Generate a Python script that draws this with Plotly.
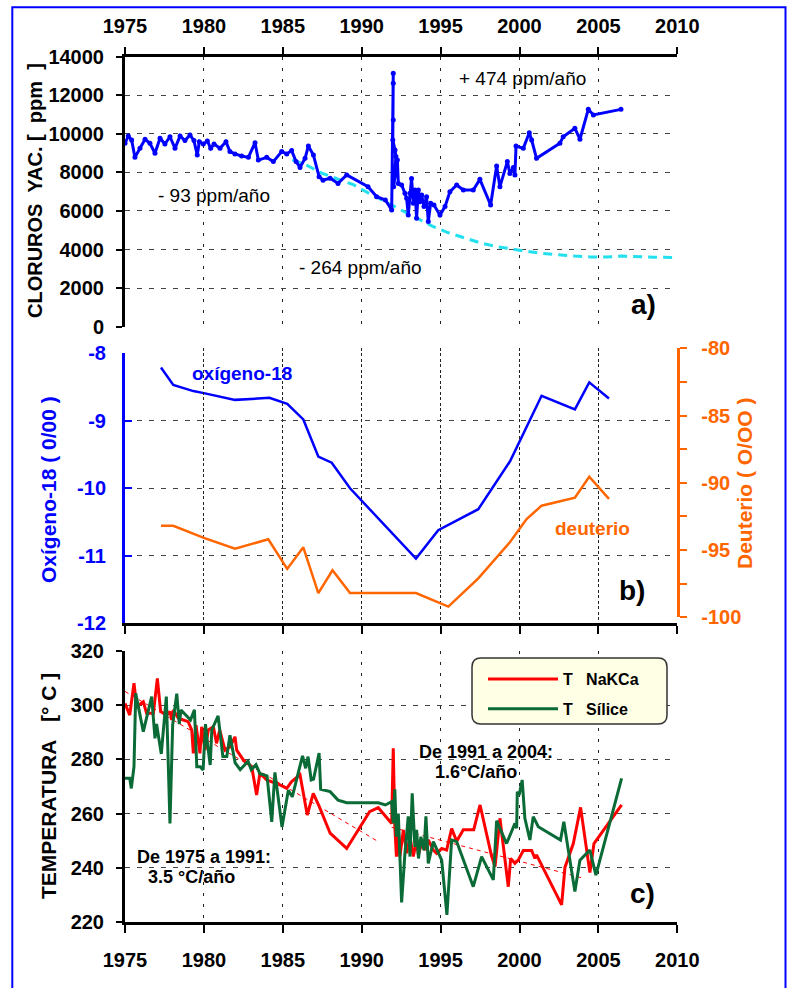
import plotly.graph_objects as go

FONT = "Liberation Sans, Arial, sans-serif"
W, H = 790, 988

# ---------------- Panel a: chlorides ----------------
cl_years = [1975.0, 1975.21, 1975.42, 1975.63, 1975.95, 1976.27, 1976.58, 1976.9, 1977.22, 1977.53,
            1977.85, 1978.17, 1978.49, 1978.8, 1979.12, 1979.37, 1979.58, 1979.71, 1979.96, 1980.22,
            1980.43, 1980.64, 1981.02, 1981.4, 1981.65, 1981.97, 1982.39, 1982.82, 1983.24, 1983.45,
            1983.98, 1984.4, 1984.93, 1985.25, 1985.56, 1985.84, 1986.09, 1986.41, 1986.62, 1986.94,
            1987.3, 1987.55, 1988.0, 1988.5, 1989.05, 1990.4, 1990.95, 1991.5, 1991.9,
            1992.0, 1992.0, 1992.0, 1991.97, 1992.11, 1992.17, 1992.02, 1992.26, 1992.32, 1992.53,
            1992.74, 1992.85, 1992.95, 1993.06, 1993.16, 1993.27, 1993.38, 1993.48, 1993.59, 1993.69,
            1993.8, 1993.95, 1994.11, 1994.22, 1994.37, 1994.58, 1994.96, 1995.28, 1995.59, 1996.02,
            1996.44, 1997.07, 1997.49, 1998.17, 1998.55, 1998.76, 1999.23, 1999.39, 1999.61, 1999.71,
            1999.78, 2000.24, 2000.62, 2000.77, 2001.08, 2002.56, 2002.77, 2003.51, 2003.83, 2004.36,
            2004.68, 2006.43]
cl_values = [9510, 9890, 9680, 8780, 9250, 9715, 9510, 8990, 9770, 9470,
             9850, 9250, 9890, 9650, 9940, 9650, 8900, 9590, 9470, 9630,
             9250, 9470, 9250, 9590, 9080, 8960, 8850, 8780, 9540, 8640,
             8780, 8560, 9080, 8960, 9130, 8560, 8260, 8730, 9370, 8900,
             7780, 7600, 7700, 7430, 7870, 7260, 6740, 6570, 6050,
             13140, 12620, 10720, 9680, 9160, 8820, 7260, 8640, 7430, 7350,
             6920, 6660, 5790, 6920, 7690, 6400, 7090, 5620, 7090, 6480,
             6830, 6230, 6740, 5450, 6400, 6310, 5790, 6230, 7000, 7350,
             7090, 7090, 7640, 6310, 8330, 7260, 8560, 7950, 8260, 7870,
             9370, 9250, 10060, 9680, 8730, 9510, 9850, 10290, 9720, 11270,
             10980, 11270]

cl_trend_years = [1985.6, 1986.5, 1987.5, 1988.5, 1989.5, 1990.5, 1991.5, 1992.5, 1993.5, 1994.5,
                  1995.5, 1996.5, 1997.5, 1998.5, 1999.5, 2000.5, 2001.5, 2002.5, 2003.5, 2004.5,
                  2005.5, 2006.5, 2007.5, 2008.5, 2010.0]
cl_trend_values = [8650, 8380, 7950, 7650, 7350, 6900, 6480, 6050, 5600, 5200,
                   4870, 4600, 4350, 4160, 4010, 3900, 3800, 3720, 3660, 3620,
                   3610, 3660, 3620, 3600, 3590]

# ---------------- Panel b: isotopes ----------------
o18_years = [1977.28, 1978.06, 1979.33, 1980.0, 1981.97, 1984.15, 1985.28, 1986.3, 1987.25, 1988.1,
             1989.26, 1993.44, 1994.85, 1997.39, 1999.4, 2000.45, 2001.4, 2003.51, 2004.42, 2005.67]
o18_values = [-8.21, -8.47, -8.56, -8.59, -8.69, -8.66, -8.75, -8.98, -9.53, -9.62,
              -10.0, -11.04, -10.62, -10.31, -9.6, -9.09, -8.63, -8.83, -8.43, -8.67]

deu_years = [1977.28, 1978.06, 1980.0, 1981.97, 1984.08, 1985.28, 1986.3, 1987.25, 1988.15, 1989.26,
             1993.44, 1995.49, 1997.39, 1999.4, 2000.45, 2001.4, 2003.51, 2004.42, 2005.67]
deu_values = [-93.2, -93.2, -94.1, -94.9, -94.2, -96.4, -94.8, -98.2, -96.5, -98.2,
              -98.2, -99.2, -97.1, -94.4, -92.7, -91.7, -91.1, -89.55, -91.2]

o18_ticks = [-12, -11, -10, -9, -8]
o18_ticktext = ["-12", "-11", "-10", "-9", "-8"]
deu_ticks = [-100, -95, -90, -85, -80]
deu_ticktext = ["-100", "-95", "-90", "-85", "-80"]

# ---------------- Panel c: temperatures ----------------
nak_years = [1975.0, 1975.3, 1975.57, 1975.74, 1976.16, 1976.37, 1976.8, 1977.05, 1977.26, 1977.64,
             1977.85, 1977.96, 1978.06, 1978.38, 1978.7, 1979.0, 1979.23, 1979.33, 1979.5, 1979.75,
             1979.86, 1980.07, 1980.28, 1980.6, 1980.8, 1981.0, 1981.34, 1981.65, 1981.97, 1982.08,
             1982.5, 1983.03, 1983.34, 1983.55, 1983.98, 1984.82, 1985.25, 1985.56, 1986.09, 1986.55,
             1986.93, 1987.3, 1988.0, 1989.05, 1990.5, 1991.05, 1991.9, 1992.0, 1992.1, 1992.2,
             1992.32, 1992.42, 1992.64, 1992.85, 1993.06, 1993.27, 1993.48, 1993.59, 1993.8, 1994.01,
             1994.22, 1994.54, 1994.75, 1995.07, 1995.38, 1995.7, 1996.02, 1996.44, 1997.1, 1997.5,
             1998.23, 1998.45, 1998.76, 1999.29, 1999.44, 1999.71, 1999.92, 2000.24, 2000.77, 2000.98,
             2001.08, 2002.67, 2002.88, 2003.41, 2003.87, 2004.46, 2004.72, 2006.47]
nak_values = [300.6, 296.3, 308.0, 299.4, 301.2, 297.0, 297.0, 309.8, 297.6, 296.3,
              297.6, 294.5, 298.2, 295.1, 294.5, 293.9, 290.8, 282.2, 292.6, 282.2,
              292.0, 283.4, 290.8, 292.0, 285.9, 290.8, 283.4, 284.6, 288.3, 283.4,
              279.8, 277.3, 266.9, 274.9, 272.4, 270.6, 269.3, 271.8, 274.3, 259.5,
              267.5, 262.8, 252.8, 247.2, 260.7, 262.2, 256.4, 284.1, 255.2, 244.2,
              254.0, 244.2, 254.0, 245.4, 251.5, 244.2, 250.3, 244.8, 249.1, 246.6,
              250.3, 246.6, 245.4, 247.2, 246.6, 254.5, 249.8, 254.1, 254.1, 263.2,
              244.4, 240.5, 258.3, 233.1, 243.5, 241.7, 242.9, 246.4, 246.4, 243.5,
              244.8, 226.4, 240.2, 249.0, 262.3, 238.3, 249.0, 263.2]

sil_years = [1975.0, 1975.3, 1975.4, 1975.57, 1975.68, 1976.16, 1976.69, 1976.9, 1977.0, 1977.3,
             1977.62, 1977.85, 1978.02, 1978.28, 1978.44, 1978.55, 1979.15, 1979.4, 1979.55, 1979.77,
             1979.95, 1980.1, 1980.25, 1980.4, 1980.5, 1980.9, 1981.2, 1981.45, 1981.65, 1981.98,
             1982.3, 1982.8, 1983.0, 1983.3, 1983.55, 1984.0, 1984.3, 1984.5, 1984.95, 1985.35,
             1985.6, 1985.8, 1986.25, 1986.45, 1986.6, 1986.8, 1986.95, 1987.3, 1987.4, 1988.0,
             1988.5, 1989.05, 1991.05, 1991.5, 1991.9, 1992.0, 1992.1, 1992.2, 1992.32, 1992.53,
             1992.74, 1992.95, 1993.06, 1993.2, 1993.37, 1993.48, 1993.6, 1993.75, 1993.95, 1994.07,
             1994.22, 1994.54, 1995.07, 1995.4, 1995.7, 1996.02, 1997.07, 1997.6, 1998.34, 1998.55,
             1999.18, 1999.71, 1999.82, 1999.86, 1999.98, 2000.17, 2000.34, 2000.66, 2000.87, 2001.19,
             2002.6, 2002.81, 2003.51, 2003.83, 2004.46, 2004.84, 2006.47]
sil_values = [273.0, 273.0, 269.3, 277.3, 304.3, 290.2, 303.1, 287.7, 293.0, 282.0,
              303.1, 256.4, 292.6, 304.2, 293.0, 298.2, 294.5, 298.2, 277.3, 277.3,
              276.1, 293.0, 284.6, 277.9, 290.8, 296.0, 281.0, 281.0, 288.9, 278.7,
              276.2, 279.3, 276.2, 278.0, 274.7, 273.9, 257.0, 275.2, 255.1, 268.6,
              266.2, 271.2, 281.3, 276.7, 281.0, 272.4, 272.7, 282.3, 269.0, 268.1,
              265.0, 264.0, 264.0, 263.2, 264.4, 256.4, 269.0, 251.5, 260.0, 227.3,
              245.4, 259.0, 244.2, 267.5, 247.8, 254.0, 243.5, 251.5, 246.6, 259.0,
              241.7, 249.7, 242.9, 222.7, 250.3, 249.7, 233.1, 244.2, 235.6, 257.4,
              249.0, 256.4, 254.6, 268.1, 266.9, 272.4, 258.3, 250.3, 258.9, 255.2,
              250.3, 257.0, 231.3, 242.9, 246.6, 237.4, 273.0]

trend1_years = [1975.0, 1991.05]
trend1_values = [305.0, 249.7]
trend2_years = [1991.9, 2004.0]
trend2_values = [255.0, 236.3]

year_ticks = [1975, 1980, 1985, 1990, 1995, 2000, 2005, 2010]

# ---------------- Geometry (pixel -> paper) ----------------
def px(x):
    return x / W

def py(y):
    return 1 - y / H

XDOM = [px(125), px(677.3)]
DOM_A = [py(326.7), py(56.7)]
DOM_B = [py(623.3), py(353.3)]
DOM_D = [py(617.3), py(348.3)]
DOM_C = [py(922.3), py(650.7)]

BLUE = "#0000FF"
ORANGE = "#FF6600"
RED = "#FF0000"
GREEN = "#0A6B36"
CYAN = "#22E0EE"

fig = go.Figure()

fig.add_trace(go.Scatter(x=cl_trend_years, y=cl_trend_values, mode="lines",
                         line=dict(color=CYAN, width=3, dash="9px,6px"),
                         xaxis="x", yaxis="y", showlegend=False))
fig.add_trace(go.Scatter(x=cl_years, y=cl_values, mode="lines+markers",
                         line=dict(color=BLUE, width=3), marker=dict(color=BLUE, size=5),
                         xaxis="x", yaxis="y", showlegend=False))

fig.add_trace(go.Scatter(x=o18_years, y=o18_values, mode="lines",
                         line=dict(color=BLUE, width=2.5),
                         xaxis="x2", yaxis="y2", showlegend=False))
fig.add_trace(go.Scatter(x=deu_years, y=deu_values, mode="lines",
                         line=dict(color=ORANGE, width=2.5),
                         xaxis="x2", yaxis="y4", showlegend=False))

fig.add_trace(go.Scatter(x=trend1_years, y=trend1_values, mode="lines",
                         line=dict(color=RED, width=1, dash="4px,4px"),
                         xaxis="x3", yaxis="y3", showlegend=False))
fig.add_trace(go.Scatter(x=trend2_years, y=trend2_values, mode="lines",
                         line=dict(color=RED, width=1, dash="4px,4px"),
                         xaxis="x3", yaxis="y3", showlegend=False))
fig.add_trace(go.Scatter(x=nak_years, y=nak_values, mode="lines",
                         name="T\u00a0\u00a0\u00a0NaKCa",
                         line=dict(color=RED, width=3), legendgroup="a",
                         xaxis="x3", yaxis="y3"))
fig.add_trace(go.Scatter(x=sil_years, y=sil_values, mode="lines",
                         name="T\u00a0\u00a0\u00a0Sílice",
                         line=dict(color=GREEN, width=3), legendgroup="b",
                         xaxis="x3", yaxis="y3"))

grid_v = dict(showgrid=True, gridcolor="#222", gridwidth=1, griddash="3px,8px")
grid_h = dict(showgrid=True, gridcolor="#444", gridwidth=1, griddash="5px,7px")
tickfont_k = dict(family=FONT, size=20, color="black", weight="bold")

xcommon = dict(range=[1975, 2010], tickvals=year_ticks, domain=XDOM, zeroline=False,
               showline=True, linecolor="black", linewidth=3, tickcolor="black", tickwidth=2,
               automargin=False, **grid_v)

fig.update_layout(
    width=W, height=H, margin=dict(l=0, r=0, t=0, b=0, autoexpand=False),
    paper_bgcolor="white", plot_bgcolor="rgba(0,0,0,0)",
    font=dict(family=FONT),
    xaxis=dict(anchor="y", side="top", ticks="outside", ticklen=7, showticklabels=True,
               tickfont=tickfont_k, ticklabelstandoff=6, **xcommon),
    yaxis=dict(domain=DOM_A, anchor="x", range=[0, 14000], dtick=2000, tickformat="d",
               zeroline=False, automargin=False,
               showline=True, linecolor="black", linewidth=3, ticks="outside", ticklen=6,
               tickwidth=2, tickcolor="black", tickfont=tickfont_k, ticklabelstandoff=8,
               **grid_h),
    xaxis2=dict(anchor="y2", ticks="outside", ticklen=8, showticklabels=False, **xcommon),
    yaxis2=dict(domain=DOM_B, anchor="x2", range=[-12, -8], tickvals=o18_ticks,
                ticktext=o18_ticktext, zeroline=False, automargin=False,
                showline=True, linecolor=BLUE, linewidth=3, ticks="inside", ticklen=7,
                tickwidth=2, tickcolor=BLUE,
                tickfont=dict(family=FONT, size=20, color=BLUE, weight="bold"),
                ticklabelstandoff=12, **grid_h),
    yaxis4=dict(domain=DOM_D, anchor="x2", side="right", range=[-100, -80],
                tickvals=deu_ticks, ticktext=deu_ticktext,
                zeroline=False, showgrid=False, showline=True, linecolor=ORANGE, linewidth=3,
                automargin=False,
                ticks="outside", ticklen=7, tickwidth=2, tickcolor=ORANGE,
                minor=dict(dtick=2.5, tick0=-100, ticks="outside", ticklen=7, tickwidth=2,
                           tickcolor=ORANGE),
                tickfont=dict(family=FONT, size=20, color=ORANGE, weight="bold"),
                ticklabelstandoff=10),
    xaxis3=dict(anchor="y3", ticks="outside", ticklen=8, showticklabels=True,
                tickfont=tickfont_k, ticklabelstandoff=10, **xcommon),
    yaxis3=dict(domain=DOM_C, anchor="x3", range=[220, 320], dtick=20, zeroline=False,
                automargin=False,
                showline=True, linecolor="black", linewidth=3, ticks="outside", ticklen=6,
                tickwidth=2, tickcolor="black", tickfont=tickfont_k, ticklabelstandoff=8,
                **grid_h),
    legend=dict(x=px(483), y=py(662), xanchor="left", yanchor="top",
                bgcolor="rgba(0,0,0,0)", borderwidth=0, tracegroupgap=6,
                font=dict(family=FONT, size=16, color="black", weight="bold"),
                itemwidth=70),
)

# Outer blue frame and rounded legend box
x0, x1 = px(472), px(667)
yt, yb = py(658), py(724)
rx, ry = 9 / W, 9 / H
path = (f"M {x0+rx},{yt} L {x1-rx},{yt} Q {x1},{yt} {x1},{yt-ry} L {x1},{yb+ry} "
        f"Q {x1},{yb} {x1-rx},{yb} L {x0+rx},{yb} Q {x0},{yb} {x0},{yb+ry} "
        f"L {x0},{yt-ry} Q {x0},{yt} {x0+rx},{yt} Z")
fig.add_shape(type="path", path=path, xref="paper", yref="paper", layer="above",
              fillcolor="#FFFFE6", line=dict(color="#333", width=1.5))
fig.add_shape(type="rect", xref="paper", yref="paper", x0=px(12.3), x1=px(785.5),
              y0=-0.02, y1=py(7.3), line=dict(color=BLUE, width=2), layer="above")


def ann(text, x, y, size, color="black", bold=False, angle=0, xanchor="center"):
    fig.add_annotation(text=f"<b>{text}</b>" if bold else text, x=px(x), y=py(y),
                       xref="paper", yref="paper", showarrow=False, textangle=angle,
                       xanchor=xanchor, yanchor="middle",
                       font=dict(family=FONT, size=size, color=color))


ann("CLORUROS\u00a0\u00a0YAC.\u00a0[\u00a0\u00a0ppm\u00a0\u00a0]", 35, 191, 20, bold=True, angle=-90)
ann("Oxígeno-18\u00a0(\u00a00/00\u00a0)", 48, 490, 21, color=BLUE, bold=True, angle=-90)
ann("Deuterio\u00a0(\u00a0O/OO\u00a0)", 745, 483, 21, color=ORANGE, bold=True, angle=-90)
ann("TEMPERATURA\u00a0\u00a0\u00a0[°\u00a0C\u00a0]", 48, 786, 21, bold=True, angle=-90)

ann("- 93 ppm/año", 214, 195, 19)
ann("- 264 ppm/año", 360.5, 267, 19)
ann("+ 474 ppm/año", 522.5, 78, 19)
ann("a)", 643, 305, 28, bold=True)

ann("oxígeno-18", 241.5, 373, 19, color=BLUE, bold=True)
ann("deuterio", 592.5, 528, 19, color=ORANGE, bold=True)
ann("b)", 632, 590, 28, bold=True)

ann("De 1975 a 1991:", 204, 857, 18, bold=True)
ann("3.5 °C/año", 191.5, 877, 18, bold=True)
ann("De 1991 a 2004:", 486.5, 752, 18, bold=True)
ann("1.6°C/año", 476, 772, 18, bold=True)
ann("c)", 642, 893, 28, bold=True)

fig.write_html("out.html")
